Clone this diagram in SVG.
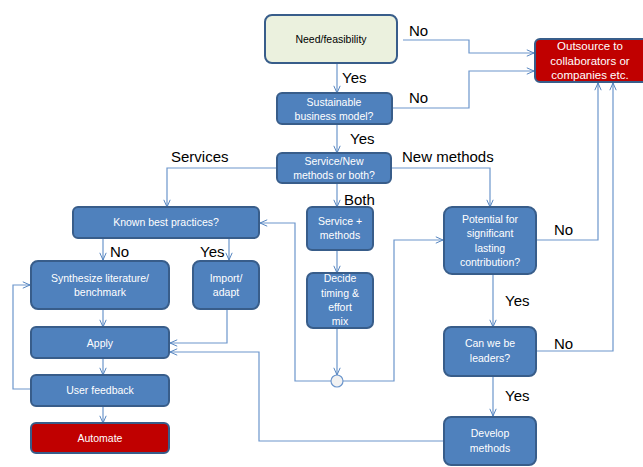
<svg xmlns="http://www.w3.org/2000/svg" width="643" height="467" viewBox="0 0 643 467">
<defs>
<marker id="arr" viewBox="0 0 10 10" refX="10" refY="5" markerWidth="8" markerHeight="8" markerUnits="userSpaceOnUse" orient="auto">
<path d="M1,1 L10,5 L1,9" fill="none" stroke="#4F81BD" stroke-width="1.2"/>
</marker>
</defs>
<style>
.box{fill:#4F81BD;stroke:#385D8A;stroke-width:2}
.red{fill:#C00000;stroke:#385D8A;stroke-width:2}
.lt{fill:#EBF1DE;stroke:#385D8A;stroke-width:2}
.c{fill:none;stroke:#6C96CC;stroke-width:1.2;marker-end:url(#arr)}
.t{font-family:"Liberation Sans",Arial,sans-serif;font-size:10.5px;fill:#FFFFFF;text-anchor:middle}
.to{font-family:"Liberation Sans",Arial,sans-serif;font-size:11.5px;fill:#FFFFFF;text-anchor:middle}
.td{font-family:"Liberation Sans",Arial,sans-serif;font-size:10.5px;fill:#000000;text-anchor:middle}
.l{font-family:"Liberation Sans",Arial,sans-serif;font-size:15px;fill:#000000}
</style>
<rect width="643" height="467" fill="#FFFFFF"/>
<g id="connectors">
<path class="c" d="M403,40 H469 V53 H534"/>
<path class="c" d="M392,108 H469 V71 H534"/>
<path class="c" d="M337,63 V93"/>
<path class="c" d="M337,124 V153"/>
<path class="c" d="M277,168 H167 V207"/>
<path class="c" d="M391,168 H490 V207"/>
<path class="c" d="M337,183 V207"/>
<path class="c" d="M337,250 V273"/>
<path class="c" d="M337,328 V375"/>
<path class="c" d="M331,381 H295 V223 H260"/>
<path class="c" d="M343,381 H394 V240 H443"/>
<path class="c" d="M536,240 H598 V83"/>
<path class="c" d="M536,351 H613 V83"/>
<path class="c" d="M103,238 V260"/>
<path class="c" d="M229,238 V260"/>
<path class="c" d="M103,309 V327"/>
<path class="c" d="M227,309 V343 H170"/>
<path class="c" d="M444,441 H259 V352 H170"/>
<path class="c" d="M103,358 V375"/>
<path class="c" d="M103,406 V423"/>
<path class="c" d="M31,389 H13 V285 H30"/>
<path class="c" d="M493,274 V327"/>
<path class="c" d="M493,376 V416"/>
<circle cx="337" cy="381" r="6" fill="#F2F2F2" stroke="#6C96CC" stroke-width="1.2"/>
</g>
<g id="labels">
<text class="l" x="409" y="36">No</text>
<text class="l" x="409" y="103">No</text>
<text class="l" x="342" y="83">Yes</text>
<text class="l" x="350" y="144">Yes</text>
<text class="l" x="171" y="162">Services</text>
<text class="l" x="402" y="162">New methods</text>
<text class="l" x="344" y="205">Both</text>
<text class="l" x="110" y="257">No</text>
<text class="l" x="200" y="257">Yes</text>
<text class="l" x="554" y="235">No</text>
<text class="l" x="505" y="306">Yes</text>
<text class="l" x="554" y="349">No</text>
<text class="l" x="505" y="401">Yes</text>
</g>
<g id="need"><rect class="lt" x="265" y="15" width="132" height="48" rx="7"/><text class="td" x="331" y="43">Need/feasibility</text></g>
<g id="outsource"><rect class="red" x="535" y="39" width="115" height="43" rx="5"/><text class="to" x="590" y="50">Outsource to</text><text class="to" x="590" y="65">collaborators or</text><text class="to" x="590" y="79">companies etc.</text></g>
<g id="sustainable"><rect class="box" x="277" y="93" width="115" height="31" rx="5"/><text class="t" x="334" y="106">Sustainable</text><text class="t" x="334" y="120">business model?</text></g>
<g id="servicenew"><rect class="box" x="277" y="153" width="114" height="30" rx="5"/><text class="t" x="334" y="165">Service/New</text><text class="t" x="334" y="179">methods or both?</text></g>
<g id="known"><rect class="box" x="73" y="207" width="186" height="31" rx="5"/><text class="t" x="166" y="226">Known best practices?</text></g>
<g id="servicemethods"><rect class="box" x="307" y="207" width="66" height="43" rx="5"/><text class="t" x="340" y="225">Service +</text><text class="t" x="340" y="239">methods</text></g>
<g id="decide"><rect class="box" x="307" y="273" width="66" height="55" rx="6"/><text class="t" x="340" y="282">Decide</text><text class="t" x="340" y="297">timing &amp;</text><text class="t" x="340" y="311">effort</text><text class="t" x="340" y="325">mix</text></g>
<g id="potential"><rect class="box" x="444" y="207" width="92" height="67" rx="8"/><text class="t" x="490" y="223">Potential for</text><text class="t" x="490" y="237">significant</text><text class="t" x="490" y="252">lasting</text><text class="t" x="490" y="266">contribution?</text></g>
<g id="synthesize"><rect class="box" x="31" y="261" width="138" height="48" rx="7"/><text class="t" x="100" y="282">Synthesize literature/</text><text class="t" x="100" y="296">benchmark</text></g>
<g id="import"><rect class="box" x="193" y="261" width="66" height="48" rx="7"/><text class="t" x="226" y="282">Import/</text><text class="t" x="226" y="296">adapt</text></g>
<g id="apply"><rect class="box" x="31" y="327" width="138" height="31" rx="5"/><text class="t" x="100" y="347">Apply</text></g>
<g id="feedback"><rect class="box" x="31" y="375" width="138" height="31" rx="5"/><text class="t" x="100" y="394">User feedback</text></g>
<g id="automate"><rect class="red" x="31" y="423" width="138" height="30" rx="5"/><text class="t" x="100" y="442">Automate</text></g>
<g id="leaders"><rect class="box" x="444" y="327" width="92" height="49" rx="7"/><text class="t" x="490" y="347">Can we be</text><text class="t" x="490" y="362">leaders?</text></g>
<g id="develop"><rect class="box" x="444" y="417" width="92" height="48" rx="7"/><text class="t" x="490" y="437">Develop</text><text class="t" x="490" y="452">methods</text></g>
</svg>
